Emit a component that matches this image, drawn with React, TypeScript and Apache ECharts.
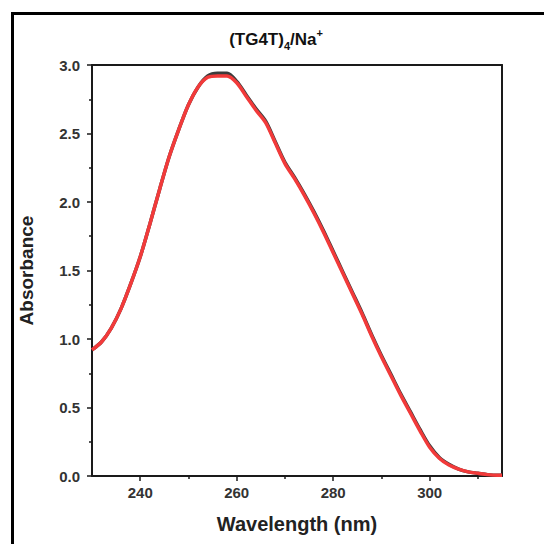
import React, { useEffect, useRef } from "react";
import * as echarts from "echarts";

const wavelengths = [230, 232, 234, 236, 238, 240, 242, 244, 246, 248, 250, 252, 254, 256, 258, 260, 262, 264, 266, 268, 270, 272, 274, 276, 278, 280, 282, 284, 286, 288, 290, 292, 294, 296, 298, 300, 302, 304, 306, 308, 310, 312, 314, 315];
const redAbs = [0.92, 0.98, 1.08, 1.22, 1.40, 1.60, 1.84, 2.09, 2.33, 2.53, 2.71, 2.84, 2.91, 2.92, 2.92, 2.87, 2.77, 2.67, 2.58, 2.43, 2.28, 2.17, 2.05, 1.92, 1.78, 1.63, 1.48, 1.33, 1.18, 1.02, 0.87, 0.73, 0.59, 0.46, 0.33, 0.21, 0.13, 0.08, 0.05, 0.03, 0.02, 0.01, 0.005, 0.005];
const grayAbs = [0.92, 0.98, 1.08, 1.22, 1.40, 1.60, 1.84, 2.09, 2.33, 2.53, 2.71, 2.84, 2.92, 2.94, 2.94, 2.88, 2.78, 2.68, 2.59, 2.44, 2.29, 2.18, 2.06, 1.93, 1.79, 1.64, 1.49, 1.34, 1.19, 1.03, 0.88, 0.74, 0.60, 0.47, 0.34, 0.22, 0.135, 0.085, 0.05, 0.03, 0.02, 0.01, 0.005, 0.005];
const xMajorTicks = [240, 260, 280, 300];
const xMinorTicks = [250, 270, 290, 310];

const FONT = "Arial, 'Liberation Sans', sans-serif";

export default function App() {
  const ref = useRef<HTMLDivElement>(null);
  useEffect(() => {
    if (!ref.current) return;
    const chart = echarts.init(ref.current, null, { renderer: "svg" });
    const lineCol = "#1a1a1a";
    chart.setOption({
      animation: false,
      backgroundColor: "#ffffff",
      title: {
        text: "(TG4T){sub|4}/Na{sup|+}",
        left: 271,
        textAlign: "center",
        top: 22,
        textStyle: {
          fontFamily: FONT,
          fontSize: 17,
          fontWeight: "bold",
          color: "#111",
          lineHeight: 24,
          rich: {
            sub: { fontFamily: FONT, fontSize: 11, fontWeight: "bold", color: "#111", verticalAlign: "bottom", lineHeight: 11 },
            sup: { fontFamily: FONT, fontSize: 11, fontWeight: "bold", color: "#111", verticalAlign: "top", lineHeight: 12 },
          },
        },
      },
      grid: { left: 92, right: 42, top: 65, bottom: 68, containLabel: false },
      xAxis: [
        {
          type: "value",
          min: 230,
          max: 315,
          position: "bottom",
          name: "Wavelength (nm)",
          nameLocation: "middle",
          nameGap: 38,
          nameTextStyle: { fontFamily: FONT, fontSize: 20, fontWeight: "bold", color: "#222" },
          axisLine: { show: true, onZero: false, lineStyle: { color: lineCol, width: 2 } },
          axisTick: { show: true, length: 5, customValues: xMajorTicks, lineStyle: { color: lineCol, width: 1.5 } },
          axisLabel: { customValues: xMajorTicks, margin: 9, fontFamily: FONT, fontSize: 15, fontWeight: "bold", color: "#333" },
          splitLine: { show: false },
        },
        {
          type: "value",
          min: 230,
          max: 315,
          position: "bottom",
          axisLine: { show: false, onZero: false },
          axisTick: { show: true, length: 3, customValues: xMinorTicks, lineStyle: { color: lineCol, width: 1.5 } },
          axisLabel: { show: false },
          splitLine: { show: false },
        },
        {
          type: "value",
          min: 230,
          max: 315,
          position: "top",
          axisLine: { show: true, onZero: false, lineStyle: { color: lineCol, width: 2 } },
          axisTick: { show: false },
          axisLabel: { show: false },
          splitLine: { show: false },
        },
      ],
      yAxis: [
        {
          type: "value",
          min: 0,
          max: 3,
          interval: 0.5,
          position: "left",
          name: "Absorbance",
          nameLocation: "middle",
          nameGap: 56,
          nameTextStyle: { fontFamily: FONT, fontSize: 19, fontWeight: "bold", color: "#222" },
          axisLine: { show: true, onZero: false, lineStyle: { color: lineCol, width: 2 } },
          axisTick: { show: true, length: 5, lineStyle: { color: lineCol, width: 1.5 } },
          minorTick: { show: true, splitNumber: 2, length: 3, lineStyle: { color: lineCol, width: 1.5 } },
          axisLabel: { margin: 12, fontFamily: FONT, fontSize: 15, fontWeight: "bold", color: "#333", formatter: (v: number) => v.toFixed(1) },
          splitLine: { show: false },
          minorSplitLine: { show: false },
        },
        {
          type: "value",
          min: 0,
          max: 3,
          position: "right",
          axisLine: { show: true, onZero: false, lineStyle: { color: lineCol, width: 2 } },
          axisTick: { show: false },
          axisLabel: { show: false },
          splitLine: { show: false },
        },
      ],
      series: [
        {
          type: "line",
          xAxisIndex: 0,
          yAxisIndex: 0,
          data: wavelengths.map((w, i) => [w, grayAbs[i]]),
          showSymbol: false,
          smooth: 0.3,
          lineStyle: { color: "#3c3c3c", width: 3.5 },
          z: 2,
        },
        {
          type: "line",
          xAxisIndex: 0,
          yAxisIndex: 0,
          data: wavelengths.map((w, i) => [w, redAbs[i]]),
          showSymbol: false,
          smooth: 0.3,
          lineStyle: { color: "#f23a3a", width: 3.5 },
          z: 3,
        },
      ],
      graphic: [
        { type: "rect", shape: { x: 11, y: 12, width: 533, height: 3 }, style: { fill: "#000" } },
        { type: "rect", shape: { x: 11, y: 12, width: 3, height: 532 }, style: { fill: "#000" } },
      ],
    });
    return () => chart.dispose();
  }, []);
  return <div ref={ref} style={{ position: "absolute", left: 0, top: 0, width: 544, height: 544 }} />;
}
